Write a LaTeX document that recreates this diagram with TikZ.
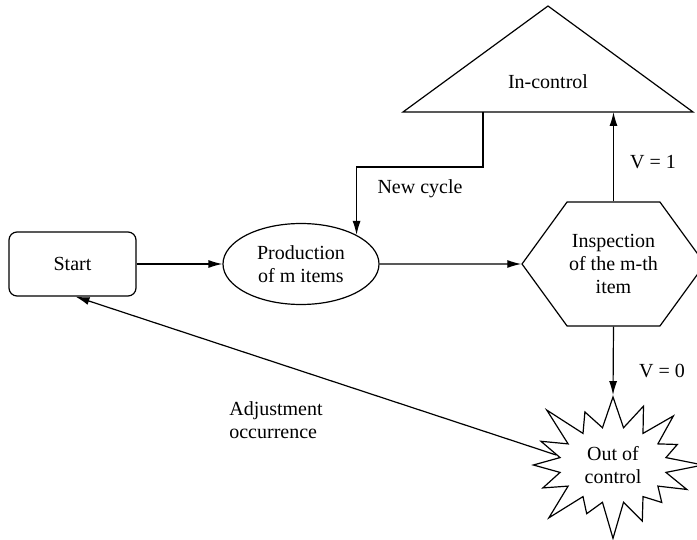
\documentclass[tikz,border=0pt]{standalone}
\usepackage{fontspec}
\setmainfont{Liberation Serif}
\usetikzlibrary{shapes.geometric,shapes.symbols,arrows.meta}

\begin{document}
\begin{tikzpicture}[x=0.5pt,y=-0.5pt,
  every node/.style={font=\fontsize{10}{11.5}\selectfont,align=center},
  box/.style={draw,line width=0.6pt},
  arr/.style={line width=0.6pt,-{Latex[length=7pt,width=4pt]}}]
\useasboundingbox (0,0) rectangle (697,540);

%ノード
\node[box,rounded corners=4pt,minimum width=63.5pt,minimum height=32pt] (start) at (72.5,264) {Start};
\node[box,ellipse,inner sep=0pt,minimum width=78pt,minimum height=40.5pt] (prod) at (301,264) {Production\\of m items};
\node[box,signal,signal to=west and east,signal pointer angle=108,inner sep=1pt,
  minimum width=90.5pt,minimum height=62pt] (insp) at (613.5,264) {Inspection\\of the m-th\\item};
\node[box,starburst,starburst points=16,starburst point height=21pt,random starburst=100,
  minimum width=96pt,minimum height=80pt] (ooc) at (613,465) {Out of\\control};

%三角形
\coordinate (apex) at (548,6);
\draw[line width=0.6pt] (403,112) -- (apex) -- (693,112) -- cycle;
\node (inctl) at (548,82) {In-control};
\coordinate (basel) at (483,112);
\coordinate (baser) at (613.5,112);

%矢印
\draw[arr] (start) -- (prod);
\draw[arr] (prod) -- (insp);
\draw[arr] (basel) -- ++(0,55) -| (prod.north east);
\draw[arr] (insp.south) -- (ooc.north);
\draw[arr] (insp.north) -- (baser);
\draw[arr] (ooc.170) -- ([xshift=1.5pt]start.south);

%ラベル
\node (newc) at (420,189) {New cycle};
\node (v1) at (653,162) {V = 1};
\node (v0) at (662,371) {V = 0};
\node[align=left] (adj) at (276,420) {Adjustment\\occurrence};
\end{tikzpicture}
\end{document}
